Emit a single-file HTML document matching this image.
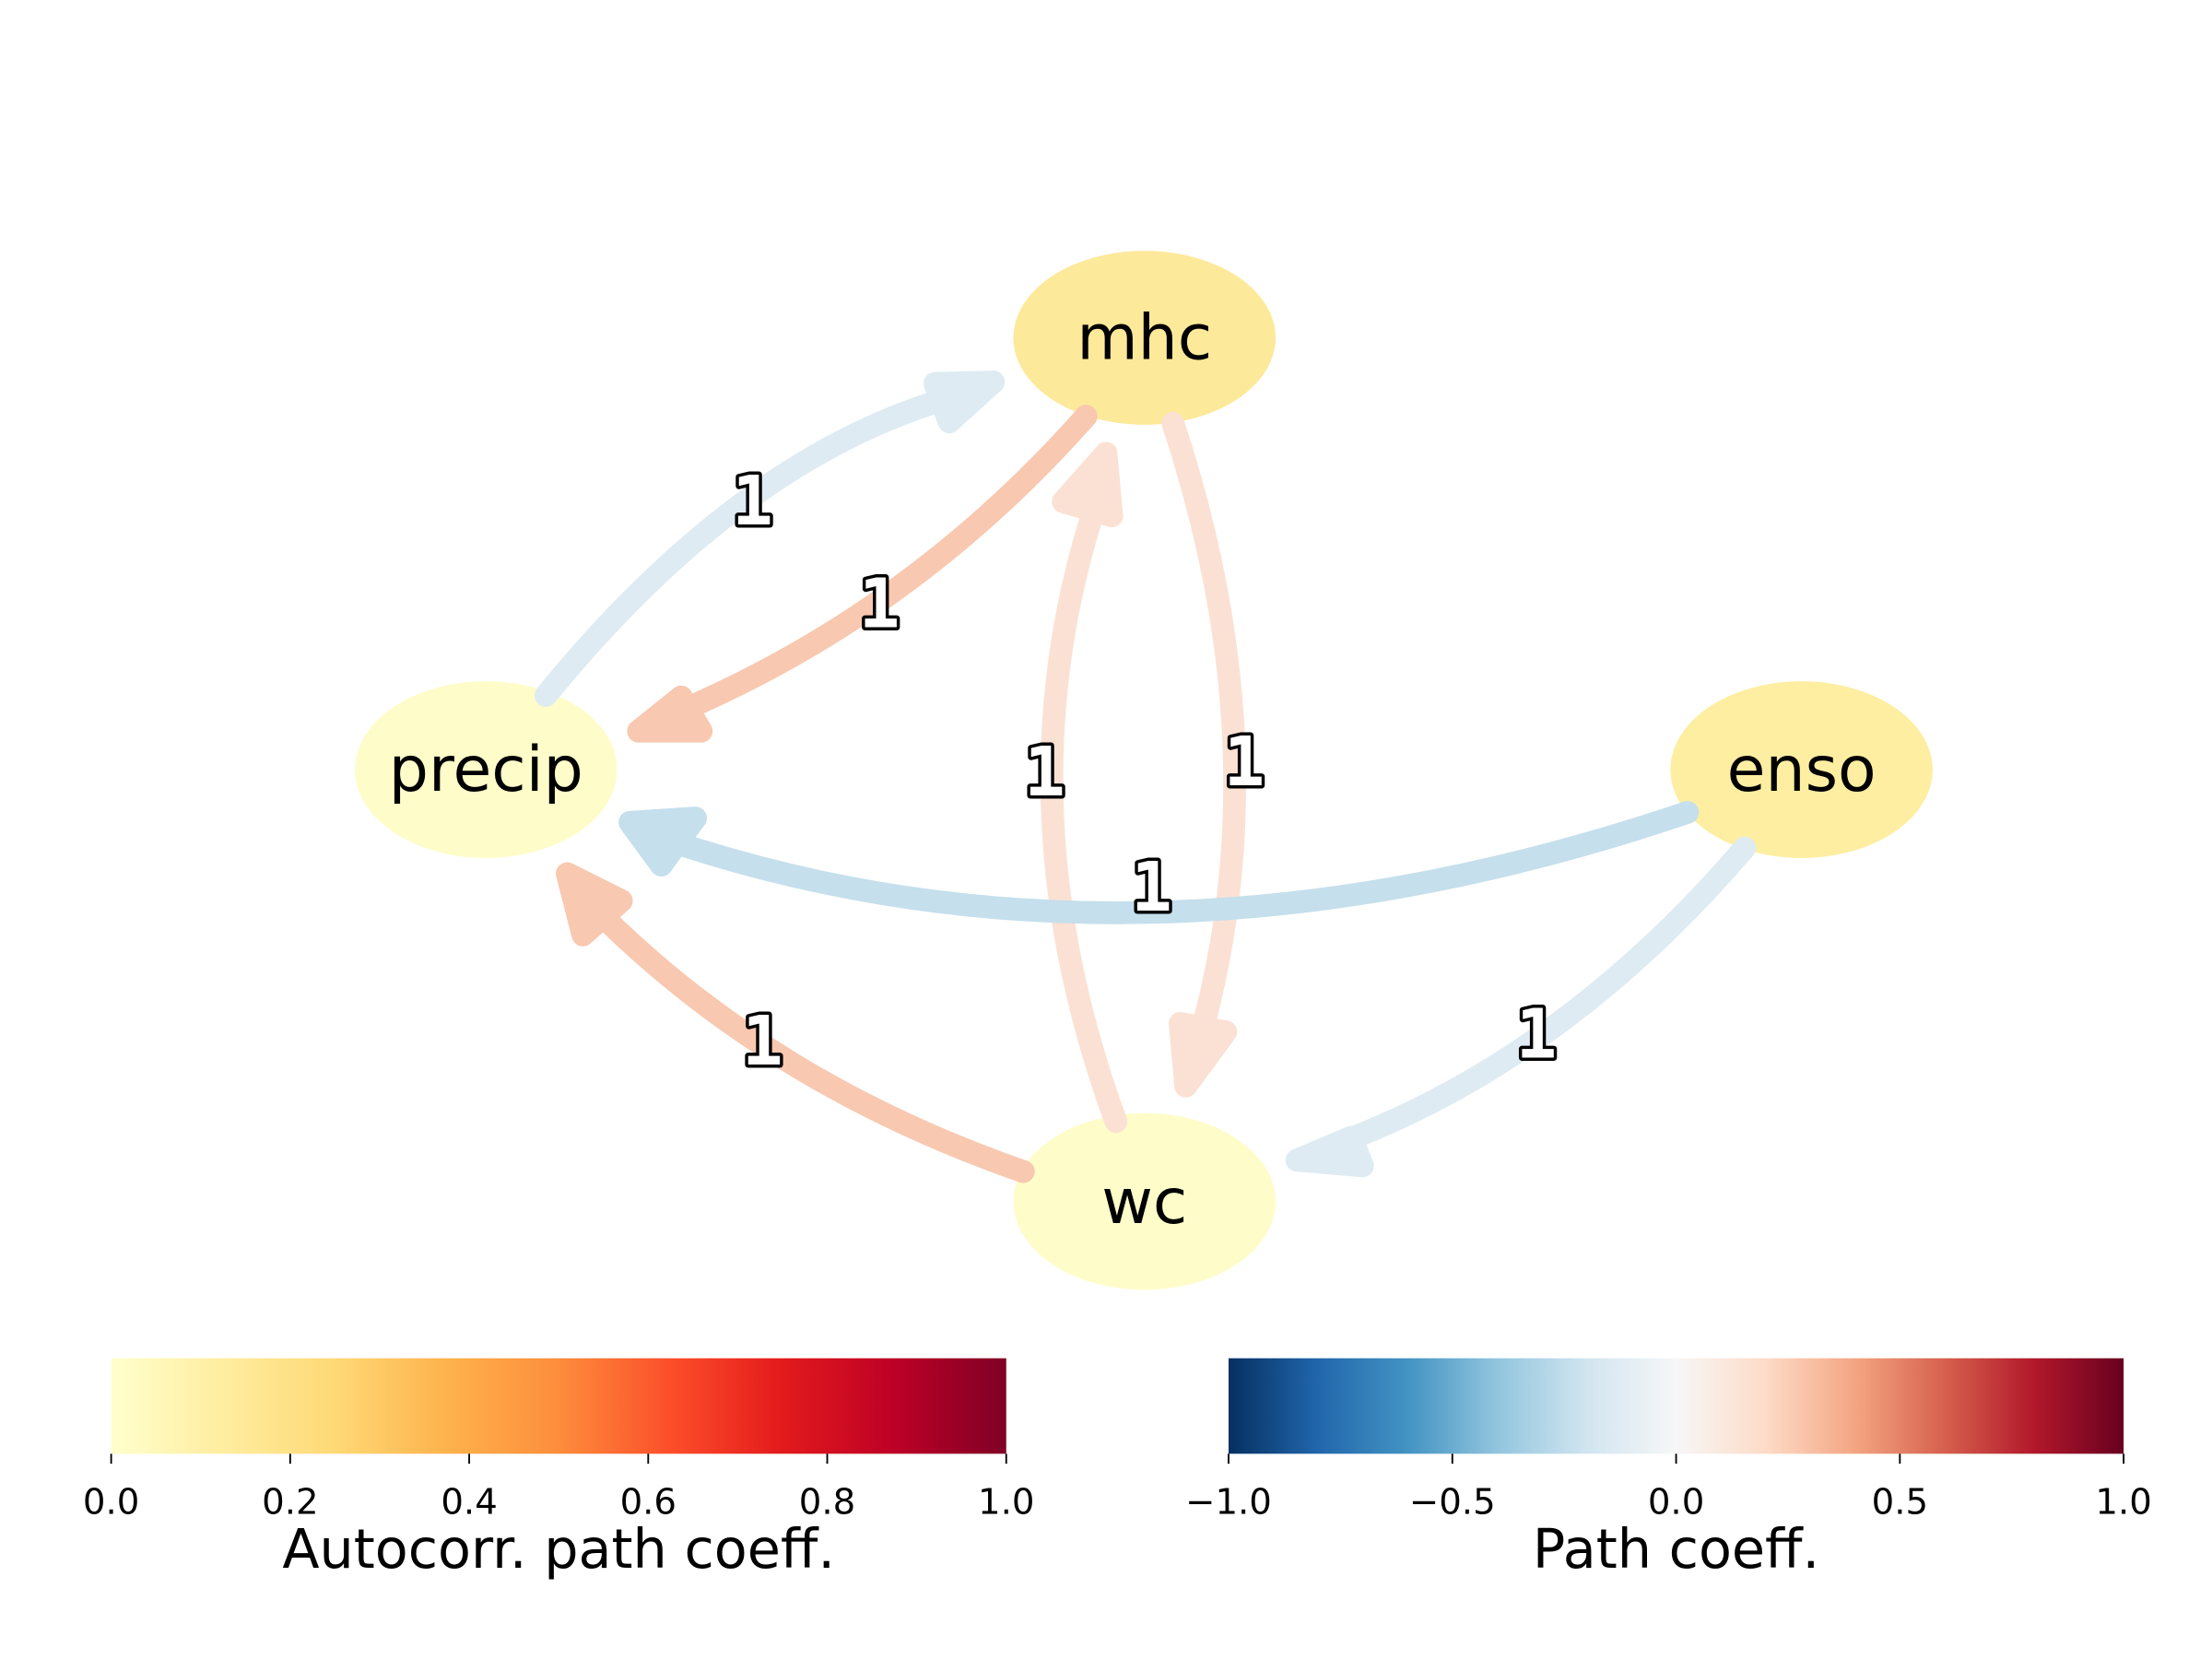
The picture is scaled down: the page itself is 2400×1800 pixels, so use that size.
<!DOCTYPE html>
<html><head><meta charset="utf-8"><style>
html,body{margin:0;padding:0;background:#fff;}
svg{display:block;}
.lbl{font-family:"DejaVu Sans Mono","Liberation Mono",monospace;font-size:48px;fill:#fff;stroke:#000;stroke-width:4.5px;paint-order:stroke;stroke-linejoin:round;text-anchor:middle;font-weight:bold;}
.node{font-family:"DejaVu Sans","Liberation Sans",sans-serif;font-size:44px;fill:#000;text-anchor:middle;}
.tick{font-family:"DejaVu Sans","Liberation Sans",sans-serif;font-size:25px;fill:#000;text-anchor:middle;}
.ttl{font-family:"DejaVu Sans","Liberation Sans",sans-serif;font-size:38px;fill:#000;text-anchor:middle;}
</style></head><body>
<svg width="2400" height="1800" viewBox="0 0 1552 1164" xmlns="http://www.w3.org/2000/svg">
<defs>
<linearGradient id="ylo" x1="0" x2="1" y1="0" y2="0">
<stop offset="0" stop-color="#ffffcc"/><stop offset="0.125" stop-color="#ffeda0"/><stop offset="0.25" stop-color="#fed976"/><stop offset="0.375" stop-color="#feb24c"/><stop offset="0.5" stop-color="#fd8d3c"/><stop offset="0.625" stop-color="#fc4e2a"/><stop offset="0.75" stop-color="#e31a1c"/><stop offset="0.875" stop-color="#bd0026"/><stop offset="1" stop-color="#800026"/>
</linearGradient>
<linearGradient id="rdbu" x1="0" x2="1" y1="0" y2="0">
<stop offset="0" stop-color="#053061"/><stop offset="0.1" stop-color="#2166ac"/><stop offset="0.2" stop-color="#4393c3"/><stop offset="0.3" stop-color="#92c5de"/><stop offset="0.4" stop-color="#d1e5f0"/><stop offset="0.5" stop-color="#f7f7f7"/><stop offset="0.6" stop-color="#fddbc7"/><stop offset="0.7" stop-color="#f4a582"/><stop offset="0.8" stop-color="#d6604d"/><stop offset="0.9" stop-color="#b2182b"/><stop offset="1" stop-color="#67001f"/>
</linearGradient>
</defs>
<ellipse cx="803" cy="237" rx="92" ry="61" fill="#fde99a"/>
<ellipse cx="341" cy="540" rx="92" ry="62" fill="#fefdca"/>
<ellipse cx="1264" cy="540" rx="92" ry="62" fill="#fdeea2"/>
<ellipse cx="803" cy="843" rx="92" ry="62" fill="#fefdca"/>
<g fill="none" stroke-width="16" stroke-linecap="round" stroke-linejoin="round">
<path d="M383,488 Q520,320 670,278" stroke="#deebf2"/>
<polygon points="697,268 656,269 666,296" fill="#deebf2" stroke="#deebf2"/>
<path d="M762,292 Q640,430 475,500" stroke="#f8c8b0"/>
<polygon points="448,513 492,513 478,489" fill="#f8c8b0" stroke="#f8c8b0"/>
<path d="M783,787 Q700,560 770,350" stroke="#fbe1d4"/>
<polygon points="776,318 746,352 780,362" fill="#fbe1d4" stroke="#fbe1d4"/>
<path d="M823,297 Q900,530 840,735" stroke="#fbe1d4"/>
<polygon points="832,762 828,718 860,724" fill="#fbe1d4" stroke="#fbe1d4"/>
<path d="M1184,570 Q800,700 470,590" stroke="#c5dfec"/>
<polygon points="442,577 488,574 464,607" fill="#c5dfec" stroke="#c5dfec"/>
<path d="M1224,595 Q1100,740 945,800" stroke="#deebf2"/>
<polygon points="910,814 948,798 956,818" fill="#deebf2" stroke="#deebf2"/>
<path d="M718,822 Q540,760 420,640" stroke="#f8c8b0"/>
<polygon points="398,613 436,632 409,656" fill="#f8c8b0" stroke="#f8c8b0"/>
</g>
<text class="lbl" x="528" y="368">1</text>
<text class="lbl" x="617" y="440">1</text>
<text class="lbl" x="733" y="558">1</text>
<text class="lbl" x="873" y="551">1</text>
<text class="lbl" x="808" y="639">1</text>
<text class="lbl" x="1078" y="742">1</text>
<text class="lbl" x="535" y="747">1</text>
<text class="node" x="803" y="252">mhc</text>
<text class="node" x="341" y="555">precip</text>
<text class="node" x="1264" y="555">enso</text>
<text class="node" x="803" y="858">wc</text>
<rect x="78" y="953" width="628" height="67" fill="url(#ylo)"/>
<rect x="862" y="953" width="628" height="67" fill="url(#rdbu)"/>
<g stroke="#000" stroke-width="1.2">
<line x1="78" y1="1020" x2="78" y2="1027"/><line x1="203.6" y1="1020" x2="203.6" y2="1027"/><line x1="329.2" y1="1020" x2="329.2" y2="1027"/><line x1="454.8" y1="1020" x2="454.8" y2="1027"/><line x1="580.4" y1="1020" x2="580.4" y2="1027"/><line x1="706" y1="1020" x2="706" y2="1027"/>
<line x1="862" y1="1020" x2="862" y2="1027"/><line x1="1019" y1="1020" x2="1019" y2="1027"/><line x1="1176" y1="1020" x2="1176" y2="1027"/><line x1="1333" y1="1020" x2="1333" y2="1027"/><line x1="1490" y1="1020" x2="1490" y2="1027"/>
</g>
<text class="tick" x="78" y="1062">0.0</text><text class="tick" x="203.6" y="1062">0.2</text><text class="tick" x="329.2" y="1062">0.4</text><text class="tick" x="454.8" y="1062">0.6</text><text class="tick" x="580.4" y="1062">0.8</text><text class="tick" x="706" y="1062">1.0</text>
<text class="tick" x="862" y="1062">−1.0</text><text class="tick" x="1019" y="1062">−0.5</text><text class="tick" x="1176" y="1062">0.0</text><text class="tick" x="1333" y="1062">0.5</text><text class="tick" x="1490" y="1062">1.0</text>
<text class="ttl" x="392" y="1100">Autocorr. path coeff.</text>
<text class="ttl" x="1176" y="1100">Path coeff.</text>
</svg>
</body></html>
